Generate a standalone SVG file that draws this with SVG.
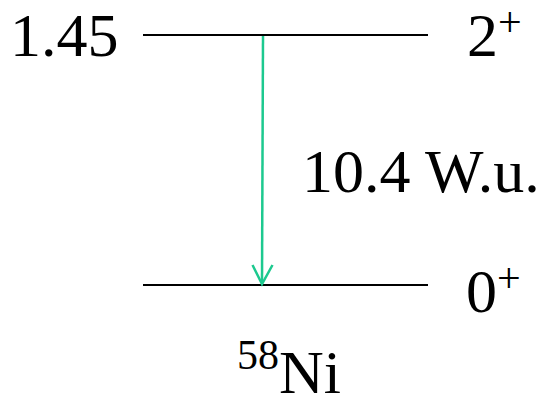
<svg xmlns="http://www.w3.org/2000/svg" width="541" height="406" viewBox="0 0 541 406">
<style>
.t{font-family:"Liberation Serif","Times New Roman",serif;font-size:62px;fill:#000}
.s{font-family:"Liberation Serif","Times New Roman",serif;font-size:42px;fill:#000}
.lvl{stroke:#000;stroke-width:2;fill:none}
.tr{stroke:#1dc98f;stroke-width:2.5;fill:none}
</style>
<rect width="541" height="406" fill="#fff"/>
<g id="level-2plus">
<line class="lvl" x1="143" y1="35" x2="428" y2="35"/>
<text class="t" x="10" y="56">1.45</text>
<text class="t" x="467" y="56">2<tspan class="s" dy="-20">+</tspan></text>
</g>
<g id="level-0plus">
<line class="lvl" x1="143" y1="285" x2="428" y2="285"/>
<text class="t" x="466" y="312">0<tspan class="s" dy="-20">+</tspan></text>
</g>
<g id="connectors">
<line class="tr" x1="263" y1="36" x2="262" y2="283"/>
<polyline class="tr" points="252.5,265 262,284 272.5,265"/>
</g>
<g id="label-transition">
<text class="t" x="302" y="192">10.4 W.u.</text>
</g>
<g id="label-nucleus">
<text class="t" x="237" y="393"><tspan class="s" dy="-24">58</tspan><tspan dy="24">Ni</tspan></text>
</g>
</svg>
